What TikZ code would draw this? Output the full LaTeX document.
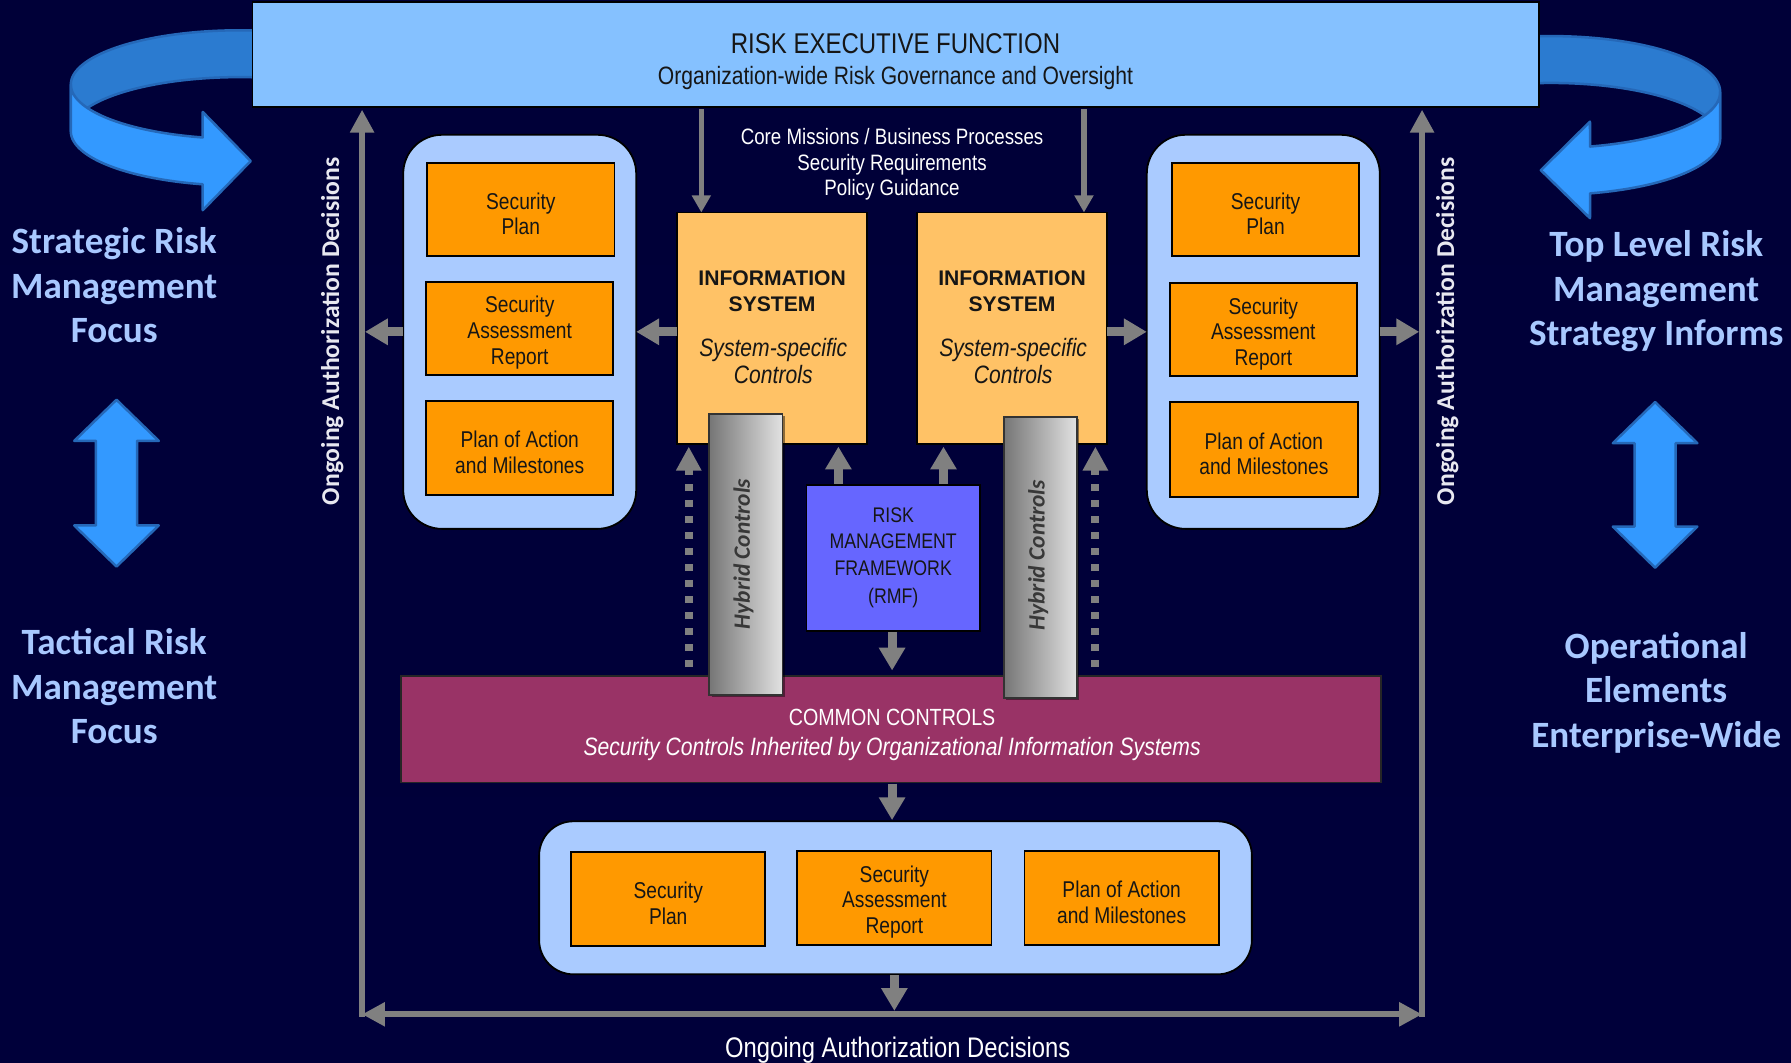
\documentclass[tikz,border=0pt]{standalone}
\usepackage{fontspec}
\setmainfont{Liberation Sans}
\newfontfamily\narrowfont[FakeStretch=0.84]{Liberation Sans}
\newfontfamily\calfont{Carlito}
\usetikzlibrary{arrows.meta,shadows}

\definecolor{bgtop}{HTML}{000038}
\definecolor{bgmid}{HTML}{000062}
\definecolor{bgbot}{HTML}{00003A}
\definecolor{execblue}{HTML}{85C1FF}
\definecolor{panelblue}{HTML}{AACBFF}
\definecolor{docorange}{HTML}{FF9900}
\definecolor{sysorange}{HTML}{FFC266}
\definecolor{rmfviolet}{HTML}{6666FF}
\definecolor{commonmaroon}{HTML}{993366}
\definecolor{flowgray}{HTML}{808080}
\definecolor{ribbonfront}{HTML}{3399FF}
\definecolor{ribbonback}{HTML}{2B7BD0}
\definecolor{ribbonedge}{HTML}{2568B8}
\definecolor{sidetext}{HTML}{A8C8FF}
\definecolor{railtext}{HTML}{E8E8F0}
\definecolor{ink}{HTML}{161616}
\definecolor{hybriddark}{HTML}{767676}
\definecolor{hybridlight}{HTML}{E2E2E2}
\definecolor{hybridink}{HTML}{383838}

\newcommand\fTitle{\narrowfont\fontsize{25}{28}\selectfont}
\newcommand\fSub{\narrowfont\fontsize{22}{25}\selectfont}
\newcommand\fDoc{\narrowfont\fontsize{20}{22.5}\selectfont}
\newcommand\fCore{\narrowfont\fontsize{19.5}{22.5}\selectfont}
\newcommand\fSysHead{\bfseries\fontsize{18.5}{22}\selectfont}
\newcommand\fSysItal{\narrowfont\itshape\fontsize{22}{24}\selectfont}
\newcommand\fRmf{\narrowfont\fontsize{18.5}{23}\selectfont}
\newcommand\fCommon{\narrowfont\fontsize{20.5}{26}\selectfont}
\newcommand\fCommonIt{\narrowfont\itshape\fontsize{22}{26}\selectfont}
\newcommand\fSide{\calfont\bfseries\fontsize{32.5}{39}\selectfont}
\newcommand\fRail{\calfont\bfseries\fontsize{22.5}{24}\selectfont}
\newcommand\fBottom{\narrowfont\fontsize{24.8}{26}\selectfont}
\newcommand\fHybrid{\calfont\bfseries\itshape\fontsize{20.5}{22}\selectfont}
% taller first line so the document labels sit a little lower in their boxes
\newcommand\docstrut{\rule{0pt}{22pt}}

\begin{document}
\begin{tikzpicture}[x=1pt, y=-1pt,
  every node/.style={inner sep=0pt, outer sep=0pt},
  frame/.style={draw=black, line width=1.6pt},
  panel/.style={frame, fill=panelblue, rounded corners=34pt},
  docbox/.style={frame, fill=docorange, text=ink, align=center, font=\fDoc},
  sysbox/.style={frame, fill=sysorange, minimum width=166pt, minimum height=203pt},
  ribbonBack/.style={fill=ribbonback, draw=ribbonedge, line width=2.2pt, line join=round},
  ribbonFront/.style={fill=ribbonfront, draw=ribbonedge, line width=2.2pt, line join=round},
  sidelabel/.style={font=\fSide, text=sidetext, align=center},
  raillabel/.style={font=\fRail, text=railtext, rotate=90},
  rail/.style={draw=flowgray, line width=5pt, line cap=rect},
  railtip/.style={-{Triangle[width=20pt,length=20pt]}},
  fat/.style={draw=flowgray, line width=8pt, -{Triangle[width=22pt,length=20pt]}},
  slim/.style={draw=flowgray, line width=4.5pt, -{Triangle[width=16pt,length=15pt]}},
  dotlink/.style={draw=flowgray, line width=7pt, dash pattern=on 6.5pt off 7.5pt,
    shorten <=8pt, shorten >=2pt, -{Triangle[width=21pt,length=21pt]}},
  hybrid/.style={draw=black!80, line width=1.5pt, left color=hybriddark, right color=hybridlight,
    minimum width=64pt, minimum height=246pt,
    drop shadow={shadow xshift=2pt, shadow yshift=-2pt, fill=black, opacity=0.45}},
  hybridtext/.style={font=\fHybrid, text=hybridink, rotate=90},
]
\useasboundingbox (0,0) rectangle (1568,930);
\shade[top color=bgtop, middle color=bgmid, bottom color=bgbot] (0,0) rectangle (1568,930);

% ---- curved ribbon arrows beside the executive box ----
\path[ribbonBack] plot[domain=80:180, samples=50] ({210+148*cos(\x)},{74-47.5*sin(\x)})
  -- plot[domain=180:80, samples=50] ({210+148*cos(\x)},{115-47.5*sin(\x)}) -- cycle;
\path[ribbonFront] plot[domain=180:257.3, samples=40] ({210+148*cos(\x)},{74-47.5*sin(\x)})
  -- (177.5,98) -- (219.5,141) -- (177.5,184)
  -- plot[domain=257.3:180, samples=40] ({210+148*cos(\x)},{115-47.5*sin(\x)}) -- cycle;

\path[ribbonBack] plot[domain=100:0, samples=50] ({1358+148*cos(\x)},{80.6-49*sin(\x)})
  -- plot[domain=0:100, samples=50] ({1358+148*cos(\x)},{121.6-49*sin(\x)}) -- cycle;
\path[ribbonFront] plot[domain=0:-76.7, samples=40] ({1358+148*cos(\x)},{80.6-49*sin(\x)})
  -- (1392,106.5) -- (1349,149) -- (1392,191)
  -- plot[domain=-76.7:0, samples=40] ({1358+148*cos(\x)},{121.6-49*sin(\x)}) -- cycle;

% ---- risk executive function ----
\node[frame, fill=execblue, minimum width=1126pt, minimum height=92pt] (exec) at (784,48) {};
\node[font=\fTitle, text=ink] (execTitle) at (784,38) {RISK EXECUTIVE FUNCTION};
\node[font=\fSub, text=ink] (execSub) at (784,68.5) {Organization-wide Risk Governance and Oversight};

% ---- side captions and vertical double arrows ----
\node[sidelabel] (strategic) at (100,250) {Strategic Risk\\Management\\Focus};
\node[sidelabel] (tactical) at (100,601) {Tactical Risk\\Management\\Focus};
\node[sidelabel] (toplevel) at (1450,255) {Top Level Risk\\Management\\Strategy Informs};
\node[sidelabel] (operational) at (1450,606.5) {Operational\\Elements\\Enterprise-Wide};

\path[ribbonFront] (102,350) -- (139,386) -- (120,386) -- (120,460) -- (139,460) -- (102,496)
  -- (65,460) -- (84,460) -- (84,386) -- (65,386) -- cycle;
\path[ribbonFront] (1449,352) -- (1486,388) -- (1467,388) -- (1467,461) -- (1486,461) -- (1449,497)
  -- (1412,461) -- (1431,461) -- (1431,388) -- (1412,388) -- cycle;

% ---- ongoing authorization rails ----
\coordinate (railLtop) at (317,96);
\coordinate (railLbot) at (317,888);
\coordinate (railRtop) at (1245,96);
\coordinate (railRbot) at (1245,888);
\draw[rail, railtip] (railLbot) -- (railLtop);
\draw[rail, railtip] (railRbot) -- (railRtop);
\draw[rail, {Triangle[width=20pt,length=20pt]}-{Triangle[width=20pt,length=20pt]}] (railLbot) -- (railRbot);
\node[raillabel] (railLlbl) at (291,290) {Ongoing Authorization Decisions};
\node[raillabel] (railRlbl) at (1267,290) {Ongoing Authorization Decisions};
\node[font=\fBottom, text=white] (railBlbl) at (786,919.5) {Ongoing Authorization Decisions};

% ---- left system artifacts ----
\node[panel, minimum width=204pt, minimum height=345pt] (panL) at (455,290.5) {};
\node[docbox, minimum width=164pt, minimum height=81pt] (planL) at (456,183.5) {\docstrut Security\\Plan};
\node[docbox, minimum width=164pt, minimum height=81pt] (sarL) at (455,287.5) {\docstrut Security\\Assessment\\Report};
\node[docbox, minimum width=164pt, minimum height=82pt] (poamL) at (455,392) {\docstrut Plan of Action\\and Milestones};

% ---- right system artifacts ----
\node[panel, minimum width=204pt, minimum height=345pt] (panR) at (1106,290.5) {};
\node[docbox, minimum width=164pt, minimum height=81pt] (planR) at (1108,183.5) {\docstrut Security\\Plan};
\node[docbox, minimum width=164pt, minimum height=81pt] (sarR) at (1106,288.5) {\docstrut Security\\Assessment\\Report};
\node[docbox, minimum width=165pt, minimum height=83pt] (poamR) at (1106.5,393.5) {\docstrut Plan of Action\\and Milestones};

% ---- information systems ----
\node[font=\fCore, text=white, align=center] (drivers) at (781,144) {Core Missions / Business Processes\\Security Requirements\\Policy Guidance};
\node[sysbox] (sysL) at (676,287.5) {};
\node[font=\fSysHead, text=ink, align=center] (sysLhead) at (676,255) {INFORMATION\\SYSTEM};
\node[font=\fSysItal, text=ink, align=center] (sysLbody) at (677,316) {System-specific\\Controls};
\node[sysbox] (sysR) at (886,287.5) {};
\node[font=\fSysHead, text=ink, align=center] (sysRhead) at (886,255) {INFORMATION\\SYSTEM};
\node[font=\fSysItal, text=ink, align=center] (sysRbody) at (887,316) {System-specific\\Controls};

% ---- RMF and common controls ----
\node[frame, fill=rmfviolet, text=ink, align=center, font=\fRmf, minimum width=152pt, minimum height=128pt] (rmf) at (782,488.5) {RISK\\MANAGEMENT\\FRAMEWORK\\[2pt](RMF)};
\node[frame, draw=black!85, fill=commonmaroon, minimum width=858pt, minimum height=93pt] (common) at (780,638.5) {};
\node[font=\fCommon, text=white, align=center] (commonText) at (781,643.5) {COMMON CONTROLS\\\fCommonIt Security Controls Inherited by Organizational Information Systems};

% ---- hybrid controls ----
\node[hybrid] (hybL) at (653,485.5) {};
\node[hybridtext] (hybLtext) at (651,485) {Hybrid Controls};
\node[hybrid] (hybR) at (911,488) {};
\node[hybridtext] (hybRtext) at (909,486) {Hybrid Controls};

% ---- common control artifacts ----
\node[panel, rounded corners=30pt, minimum width=624pt, minimum height=134pt] (panB) at (784,786) {};
\node[docbox, minimum width=170pt, minimum height=82pt] (planB) at (585,787) {\docstrut Security\\Plan};
\node[docbox, minimum width=170pt, minimum height=82pt] (sarB) at (783,786) {\docstrut Security\\Assessment\\Report};
\node[docbox, minimum width=170pt, minimum height=82pt] (poamB) at (982,786) {\docstrut Plan of Action\\and Milestones};

% ---- flows ----
\draw[slim, shorten <=1.5pt] (614,0 |- exec.south) -- (614,0 |- sysL.north);
\draw[slim, shorten <=1.5pt] (949,0 |- exec.south) -- (949,0 |- sysR.north);
\draw[fat] (sysL.west |- panL.west) -- (panL.east);
\draw[fat] (sysR.east |- panR.west) -- (panR.west);
\draw[fat, shorten >=2.5pt] (panL.west) -- (railLtop |- panL.west);
\draw[fat, shorten >=2.5pt] (panR.east) -- (railRtop |- panR.east);
\draw[fat, shorten <=1pt, shorten >=2pt] (734,0 |- rmf.north) -- (734,0 |- sysL.south);
\draw[fat, shorten <=1pt, shorten >=2pt] (826,0 |- rmf.north) -- (826,0 |- sysR.south);
\draw[fat, shorten <=1pt, shorten >=5pt] (781,0 |- rmf.south) -- (781,0 |- common.north);
\draw[fat, shorten <=1pt, shorten >=1pt] (781,0 |- common.south) -- (781,0 |- panB.north);
\draw[fat, shorten <=1pt, shorten >=3pt] (783,0 |- panB.south) -- (783,0 |- railLbot);
\draw[dotlink] (603,0 |- common.north) -- (603,0 |- sysL.south);
\draw[dotlink] (959,0 |- common.north) -- (959,0 |- sysR.south);
\end{tikzpicture}
\end{document}
